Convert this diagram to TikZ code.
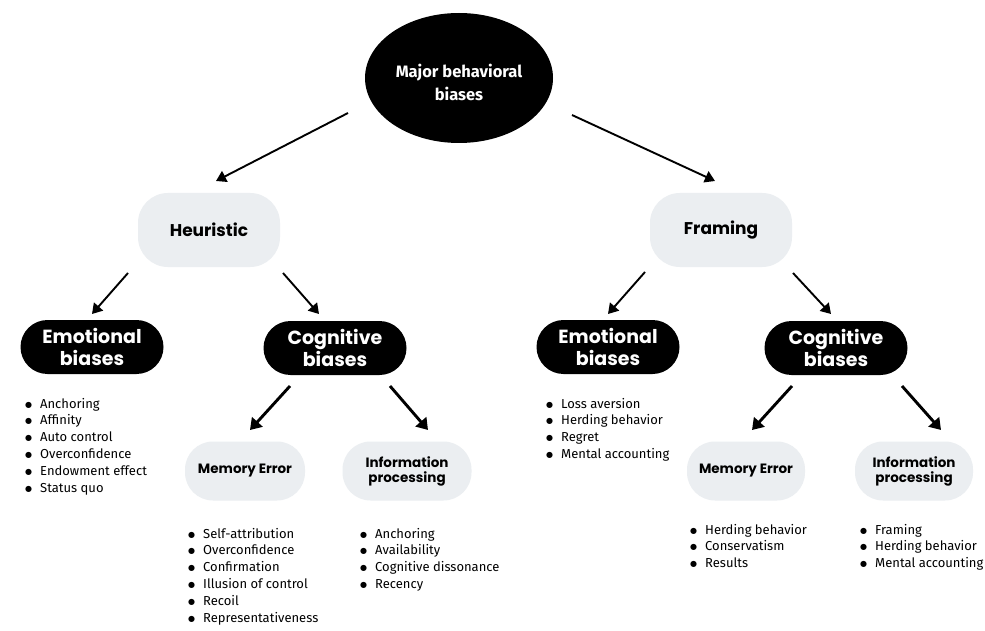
\documentclass[tikz,border=0pt]{standalone}
\usepackage{fontspec}
\setmainfont{Fira Sans}
\newfontfamily\boxfont{Poppins}
\newfontfamily\dejavu{DejaVu Sans}
\usetikzlibrary{arrows.meta,shapes.geometric}
\definecolor{pale}{HTML}{EBEEF1}
\tikzset{
  arr/.style={line width=1.9pt,-{Triangle[width=12pt,length=10pt]}},
  arrb/.style={line width=2.9pt,-{Triangle[width=14pt,length=11pt]}},
  darkbox/.style={rounded corners=27pt,fill=black,text=white,minimum width=143pt,minimum height=54pt,align=center,inner sep=0pt,font=\boxfont\bfseries\fontsize{19}{22}\selectfont},
  palebox/.style={rounded corners=30pt,fill=pale,text=black,align=center,inner sep=0pt,font=\boxfont\bfseries\fontsize{17}{20}\selectfont},
  smallbox/.style={rounded corners=28pt,fill=pale,text=black,align=center,inner sep=0pt,minimum height=59pt,font=\boxfont\bfseries\fontsize{13.5}{15}\selectfont},
  blist/.style={anchor=base west,inner sep=0pt,align=left,font=\fontsize{13}{16.8}\selectfont}
}
\newcommand{\bul}{\raisebox{1pt}{\dejavu\fontsize{8}{0}\selectfont ●}}
\newcommand{\blst}[1]{\begin{tabular}[t]{@{}l@{\hspace{8pt}}l@{}}#1\end{tabular}}
\begin{document}
\begin{tikzpicture}[x=1pt,y=-1pt]
\useasboundingbox (0,0) rectangle (985,631);
\fill[white] (0,0) rectangle (985,631);
% root
\node[ellipse,fill=black,minimum width=188pt,minimum height=130pt,inner sep=0pt] (root) at (459,78) {};
\node[text=white,align=center,font=\bfseries\fontsize{16.5}{23}\selectfont] (roottxt) at (459,82) {Major behavioral\\biases};
% level 1
\node[palebox,minimum width=142pt,minimum height=74pt] (heur) at (209,230) {Heuristic};
\node[palebox,minimum width=142pt,minimum height=74pt] (fram) at (721,230) {Framing};
% level 2
\node[darkbox] (emoL) at (92,347) {Emotional\\biases};
\node[darkbox] (cogL) at (335,348) {Cognitive\\biases};
\node[darkbox] (emoR) at (608,347) {Emotional\\biases};
\node[darkbox] (cogR) at (836,348) {Cognitive\\biases};
% level 3
\node[smallbox,minimum width=120pt] (memL) at (245,471) {Memory Error};
\node[smallbox,minimum width=129pt] (infL) at (407,471) {Information\\processing};
\node[smallbox,minimum width=118pt] (memR) at (746,471) {Memory Error};
\node[smallbox,minimum width=118pt] (infR) at (914,471) {Information\\processing};
% arrow end points
\coordinate (a1s) at (348,113); \coordinate (a1e) at (216,181);
\coordinate (a2s) at (572,115); \coordinate (a2e) at (715,181);
\coordinate (a3s) at (128,273); \coordinate (a3e) at (92,314);
\coordinate (a4s) at (283,273); \coordinate (a4e) at (319,314);
\coordinate (a5s) at (645,272); \coordinate (a5e) at (608,314);
\coordinate (a6s) at (793,273); \coordinate (a6e) at (831,314);
\coordinate (a7s) at (290,386); \coordinate (a7e) at (250,430);
\coordinate (a8s) at (390,386); \coordinate (a8e) at (428,430);
\coordinate (a9s) at (792,386); \coordinate (a9e) at (752,430);
\coordinate (a10s) at (902,386); \coordinate (a10e) at (941,430);
\draw[arr] (a1s) -- (a1e);
\draw[arr] (a2s) -- (a2e);
\draw[arr] (a3s) -- (a3e);
\draw[arr] (a4s) -- (a4e);
\draw[arr] (a5s) -- (a5e);
\draw[arr] (a6s) -- (a6e);
\draw[arrb] (a7s) -- (a7e);
\draw[arrb] (a8s) -- (a8e);
\draw[arrb] (a9s) -- (a9e);
\draw[arrb] (a10s) -- (a10e);
% lists
\node[blist] (l1) at (25,408) {\blst{\bul & Anchoring\\ \bul & Affinity\\ \bul & Auto control\\ \bul & Overconfidence\\ \bul & Endowment effect\\ \bul & Status quo}};
\node[blist] (l2) at (188,538) {\blst{\bul & Self-attribution\\ \bul & Overconfidence\\ \bul & Confirmation\\ \bul & Illusion of control\\ \bul & Recoil\\ \bul & Representativeness}};
\node[blist] (l3) at (360,538) {\blst{\bul & Anchoring\\ \bul & Availability\\ \bul & Cognitive dissonance\\ \bul & Recency}};
\node[blist] (l4) at (546,408) {\blst{\bul & Loss aversion\\ \bul & Herding behavior\\ \bul & Regret\\ \bul & Mental accounting}};
\node[blist] (l5) at (690,534) {\blst{\bul & Herding behavior\\ \bul & Conservatism\\ \bul & Results}};
\node[blist] (l6) at (860,534) {\blst{\bul & Framing\\ \bul & Herding behavior\\ \bul & Mental accounting}};
\end{tikzpicture}
\end{document}
